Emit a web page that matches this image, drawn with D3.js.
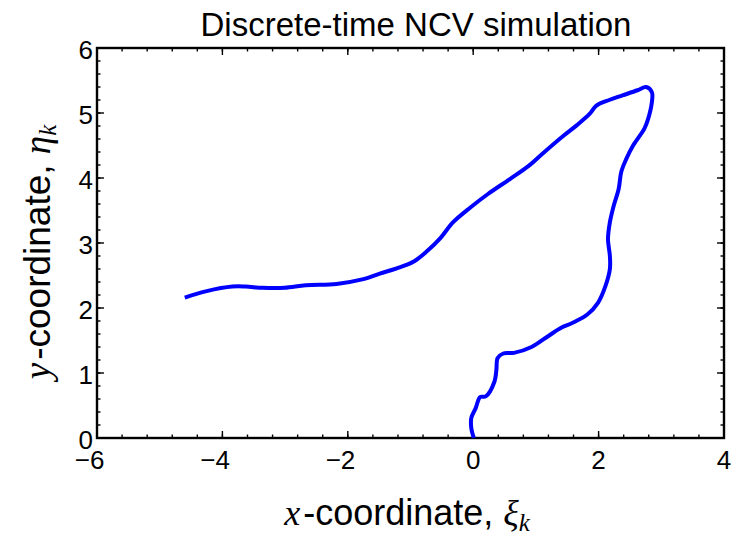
<!DOCTYPE html>
<html>
<head>
<meta charset="utf-8">
<script src="https://cdn.jsdelivr.net/npm/d3@7"></script>
<style>
  body { margin: 0; background: white; }
  text { font-family: "Liberation Sans", Arial, sans-serif; }
</style>
</head>
<body>
<div id="chart"></div>
<script>
// path of the simulated target (starts at the origin)
var xs = [0.01, -0.03, -0.03, 0.04, 0.11, 0.20, 0.34, 0.37, 0.39, 0.48, 0.65, 0.93, 1.20, 1.41,
          1.58, 1.82, 1.99, 2.11, 2.18, 2.18, 2.15, 2.18, 2.24, 2.32, 2.36, 2.44, 2.55, 2.73,
          2.79, 2.85, 2.85, 2.76, 2.62, 2.38, 2.17, 1.96, 1.86, 1.65, 1.44, 1.10, 0.89, 0.58,
          0.23, -0.04, -0.32, -0.52, -0.73, -0.94, -1.22, -1.49, -1.77, -2.18, -2.67, -3.01,
          -3.36, -3.63, -3.84, -4.25, -4.60];
var ys = [0.00, 0.15, 0.31, 0.46, 0.63, 0.64, 0.87, 1.05, 1.23, 1.30, 1.31, 1.40, 1.57, 1.70,
          1.77, 1.90, 2.08, 2.34, 2.60, 2.80, 3.06, 3.32, 3.57, 3.83, 4.09, 4.29, 4.50, 4.76,
          4.91, 5.17, 5.32, 5.40, 5.35, 5.27, 5.20, 5.11, 4.99, 4.81, 4.65, 4.37, 4.19, 3.98,
          3.75, 3.55, 3.32, 3.08, 2.88, 2.72, 2.61, 2.53, 2.44, 2.37, 2.35, 2.31,
          2.31, 2.33, 2.33, 2.26, 2.16];

var xTicks = [-6, -4, -2, 0, 2, 4];
var yTicks = [0, 1, 2, 3, 4, 5, 6];

var width = 744, height = 535;
var margin = {top: 48, right: 20, bottom: 97, left: 97};
var w = width - margin.left - margin.right;
var h = height - margin.top - margin.bottom;

var svg = d3.select("#chart").append("svg")
    .attr("width", width)
    .attr("height", height);

var x = d3.scaleLinear().domain([-6, 4]).range([0, w]);
var y = d3.scaleLinear().domain([0, 6]).range([h, 0]);

var g = svg.append("g").attr("transform", "translate(" + margin.left + "," + margin.top + ")");

// minor + major ticks on all four sides, pointing inwards
var xMinor = d3.range(-6, 4.001, 0.4);
var yMinor = d3.range(0, 6.001, 0.2);

function tickLines(vals, len, horizontal) {
    vals.forEach(function(v) {
        if (horizontal) {
            g.append("line").attr("x1", x(v)).attr("x2", x(v)).attr("y1", h).attr("y2", h - len)
                .attr("stroke", "black").attr("stroke-width", 1.4);
            g.append("line").attr("x1", x(v)).attr("x2", x(v)).attr("y1", 0).attr("y2", len)
                .attr("stroke", "black").attr("stroke-width", 1.4);
        } else {
            g.append("line").attr("y1", y(v)).attr("y2", y(v)).attr("x1", 0).attr("x2", len)
                .attr("stroke", "black").attr("stroke-width", 1.4);
            g.append("line").attr("y1", y(v)).attr("y2", y(v)).attr("x1", w).attr("x2", w - len)
                .attr("stroke", "black").attr("stroke-width", 1.4);
        }
    });
}
tickLines(xMinor, 3.5, true);
tickLines(yMinor, 3.5, false);
tickLines(xTicks, 7, true);
tickLines(yTicks, 7, false);

// frame
g.append("rect")
    .attr("width", w)
    .attr("height", h)
    .attr("fill", "none")
    .attr("stroke", "black")
    .attr("stroke-width", 2.4);

// tick labels - digit centred on the tick, minus sign hangs to the left
g.selectAll(".xlab")
    .data(xTicks)
    .enter()
    .append("text")
    .attr("class", "xlab")
    .attr("x", d => d < 0 ? x(d) + 7.5 : x(d))
    .attr("y", h + 31)
    .attr("text-anchor", d => d < 0 ? "end" : "middle")
    .attr("font-size", "26px")
    .text(d => d < 0 ? "\u2212" + Math.abs(d) : d);

g.selectAll(".ylab")
    .data(yTicks)
    .enter()
    .append("text")
    .attr("class", "ylab")
    .attr("x", -4)
    .attr("y", d => y(d) + 11)
    .attr("text-anchor", "end")
    .attr("font-size", "26px")
    .text(d => d);

// the trajectory
var pts = xs.map((v, i) => [v, ys[i]]);
var line = d3.line()
    .x(d => x(d[0]))
    .y(d => y(d[1]))
    .curve(d3.curveCatmullRom.alpha(0.5));

g.append("path")
    .datum(pts)
    .attr("d", line)
    .attr("fill", "none")
    .attr("stroke", "#0000ff")
    .attr("stroke-width", 4)
    .attr("stroke-linejoin", "round")
    .attr("stroke-linecap", "butt");

// title
svg.append("text")
    .attr("x", 416)
    .attr("y", 36)
    .attr("text-anchor", "middle")
    .attr("font-size", "33px")
    .text("Discrete-time NCV simulation");

// x axis label
var xl = svg.append("text")
    .attr("x", 407)
    .attr("y", 525)
    .attr("text-anchor", "middle")
    .attr("font-size", "36px");
xl.append("tspan").attr("font-family", "Liberation Serif").attr("font-style", "italic").text("x");
xl.append("tspan").attr("dx", 3).text("-coordinate, ");
xl.append("tspan").attr("font-family", "Liberation Serif").attr("font-style", "italic").text("\u03BE");
xl.append("tspan").attr("font-family", "Liberation Serif").attr("font-style", "italic")
    .attr("font-size", "25px").attr("dy", 6).text("k");

// y axis label
var yl = svg.append("text")
    .attr("transform", "translate(50,252) rotate(-90)")
    .attr("text-anchor", "middle")
    .attr("font-size", "37px");
yl.append("tspan").attr("font-family", "Liberation Serif").attr("font-style", "italic").text("y");
yl.append("tspan").attr("dx", 3).text("-coordinate, ");
yl.append("tspan").attr("font-family", "Liberation Serif").attr("font-style", "italic").text("\u03B7");
yl.append("tspan").attr("font-family", "Liberation Serif").attr("font-style", "italic")
    .attr("font-size", "25px").attr("dy", 6).text("k");
</script>
</body>
</html>
